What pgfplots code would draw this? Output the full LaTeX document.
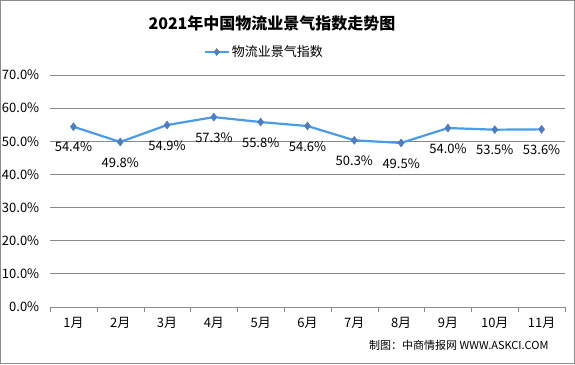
\documentclass[border=0pt]{standalone}
\usepackage{pgfplots}
\pgfplotsset{compat=1.18}
\usepackage{fontspec}
\setmainfont{Noto Sans CJK SC}
\definecolor{lineblue}{HTML}{4A9BE8}
\definecolor{markblue}{HTML}{4F7CBF}
\definecolor{gridgray}{HTML}{898989}
\begin{document}
\begin{tikzpicture}[x=1pt,y=1pt]
\path[use as bounding box] (0,0) rectangle (575,364);
\draw[gray!90,line width=1pt] (0.5,0.5) rectangle (574.5,363.5);
\begin{axis}[
  at={(50pt,57pt)}, anchor=south west,
  width=515pt, height=232pt, scale only axis,
  xmin=0.5, xmax=11.5, ymin=0, ymax=70,
  axis lines*=left,
  x axis line style={gridgray},
  y axis line style={draw=none},
  xtick={1,...,11},
  xticklabels={1月,2月,3月,4月,5月,6月,7月,8月,9月,10月,11月},
  major x tick style={draw=none},
  minor xtick={0.5,1.5,...,11.5},
  minor x tick style={gridgray},
  minor tick length=5pt,
  tick align=outside,
  ytick={0,10,...,70},
  major y tick style={draw=none},
  ymajorgrids,
  grid style={gridgray, line width=0.8pt},
  /pgf/number format/assume math mode=true,
  yticklabel style={xshift=-3pt, /pgf/number format/.cd, fixed, fixed zerofill, precision=1},
  yticklabel={\pgfmathprintnumber{\tick}\%},
  ticklabel style={font=\fontsize{13}{15}\selectfont},
  xticklabel style={yshift=-2pt},
  legend style={at={(0.416,1.099)}, anchor=center, draw=none, fill=none,
    legend columns=-1, font=\fontsize{13}{15}\selectfont},
  legend image code/.code={
    \draw[lineblue, line width=2.2pt] (0pt,0pt) -- (24pt,0pt);
    \draw[markblue, fill=markblue, line width=0.5pt] plot[mark=diamond*, mark size=3.5pt] coordinates {(12pt,0pt)};},
  clip=false,
]
\addplot[lineblue, line width=2.2pt, mark=diamond*, mark size=4pt,
  mark options={fill=markblue, draw=markblue, line width=0.5pt},
  point meta=explicit,
  nodes near coords={\pgfmathprintnumber[fixed,fixed zerofill,precision=1,assume math mode=true]{\pgfplotspointmeta}\%},
  nodes near coords align={below},
  every node near coord/.append style={font=\fontsize{13}{15}\selectfont, black, yshift=-12pt},
] coordinates {
  (1,54.4) [54.4]
  (2,49.8) [49.8]
  (3,54.9) [54.9]
  (4,57.3) [57.3]
  (5,55.8) [55.8]
  (6,54.6) [54.6]
  (7,50.3) [50.3]
  (8,49.5) [49.5]
  (9,54.0) [54.0]
  (10,53.5) [53.5]
  (11,53.6) [53.6]
};
\addlegendentry{物流业景气指数}
\end{axis}
\node[font=\bfseries\fontsize{16}{19}\selectfont] at (272,341) {2021年中国物流业景气指数走势图};
\node[font=\fontsize{11}{13}\selectfont, anchor=east] at (552,19) {制图：中商情报网 WWW.ASKCI.COM};
\end{tikzpicture}
\end{document}
